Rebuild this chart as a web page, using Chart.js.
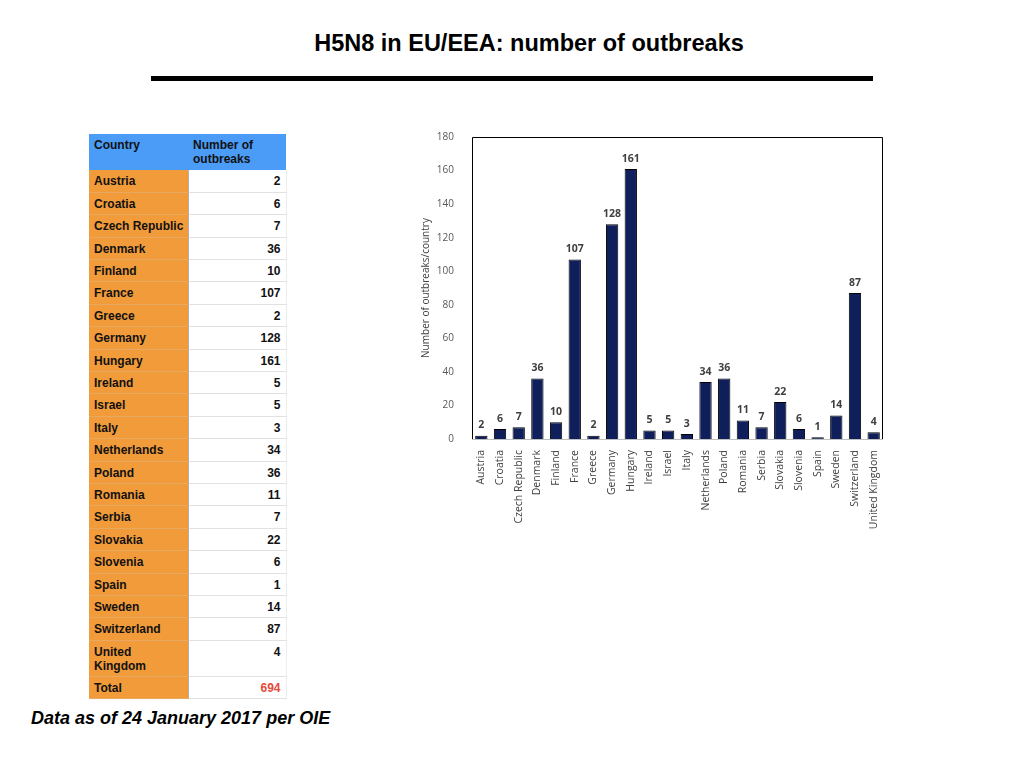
<!DOCTYPE html>
<html>
<head>
<meta charset="utf-8">
<script src="https://cdn.jsdelivr.net/npm/chart.js@4"></script>
<style>
  body { margin: 0; width: 1024px; height: 768px; background: #fff; position: relative; overflow: hidden; font-family: "Liberation Sans", Arial, sans-serif; }
  #title { position: absolute; left: 0; width: 1024px; top: 30px; text-align: center; font-weight: bold; font-size: 23.5px; color: #000; padding-left: 34px; box-sizing: border-box; }
  #rule { position: absolute; left: 151px; top: 76px; width: 722px; height: 5px; background: #000; }
  #tbl { position: absolute; left: 89px; top: 134px; border-collapse: collapse; table-layout: fixed; width: 197px; font-size: 12px; font-weight: bold; color: #111; }
  #tbl td, #tbl th { padding: 0 5px; box-sizing: border-box; white-space: nowrap; }
  #tbl th { background: #4a9cf6; text-align: left; vertical-align: top; height: 36px; padding-top: 4px; line-height: 14px; font-weight: bold; }
  #tbl td { height: 22.4px; border-bottom: 1px solid #e2e2e2; line-height: 14px; vertical-align: top; padding-top: 4px; }
  #tbl td.c { background: #f19b3a; border-bottom: 1px solid #e8a860; border-right: 1px solid #b0b0b0; }
  #tbl td.v { background: #fff; text-align: right; border-right: 1px solid #eee; }
  #tbl tr.two td { height: 36px; }
  #tbl td.red { color: #e34b3a; }
  #wrap { position: absolute; left: 420px; top: 121px; width: 470px; height: 414px; }
  #foot { position: absolute; left: 31px; top: 708px; font-size: 18px; font-weight: bold; font-style: italic; color: #000; }
</style>
</head>
<body>
<div id="title">H5N8 in EU/EEA: number of outbreaks</div>
<div id="rule"></div>
<table id="tbl"><colgroup><col style="width:99px"><col style="width:98px"></colgroup><tbody id="tb"></tbody></table>
<div id="wrap"><canvas id="myChart" width="470" height="414"></canvas></div>
<div id="foot">Data as of 24 January 2017 per OIE</div>
<script>
const countries = ["Austria", "Croatia", "Czech Republic", "Denmark", "Finland", "France", "Greece", "Germany", "Hungary", "Ireland", "Israel", "Italy", "Netherlands", "Poland", "Romania", "Serbia", "Slovakia", "Slovenia", "Spain", "Sweden", "Switzerland", "United Kingdom"];
const outbreaks = [2, 6, 7, 36, 10, 107, 2, 128, 161, 5, 5, 3, 34, 36, 11, 7, 22, 6, 1, 14, 87, 4];
const yTicks = [0, 20, 40, 60, 80, 100, 120, 140, 160, 180];

// table on the left
const tb = document.getElementById('tb');
let html = '<tr><th>Country</th><th>Number of<br>outbreaks</th></tr>';
countries.forEach((c, i) => {
  const two = c === 'United Kingdom';
  html += `<tr${two ? ' class="two"' : ''}><td class="c">${two ? 'United<br>Kingdom' : c}</td><td class="v">${outbreaks[i]}</td></tr>`;
});
const total = outbreaks.reduce((a, b) => a + b, 0);
html += `<tr><td class="c">Total</td><td class="v red">${total}</td></tr>`;
tb.innerHTML = html;

const barLabels = {
  id: 'barLabels',
  afterDatasetsDraw(chart) {
    const { ctx } = chart;
    const meta = chart.getDatasetMeta(0);
    ctx.save();
    ctx.font = 'bold 10.5px "Open Sans"';
    ctx.fillStyle = '#404040';
    ctx.textAlign = 'center';
    ctx.textBaseline = 'bottom';
    meta.data.forEach((bar, i) => {
      ctx.fillText(outbreaks[i], bar.x, bar.y - 5);
    });
    ctx.restore();
  }
};

const plotBorder = {
  id: 'plotBorder',
  afterDraw(chart) {
    const { ctx, chartArea: { left, right, top, bottom } } = chart;
    ctx.save();
    ctx.strokeStyle = '#000';
    ctx.lineWidth = 1;
    ctx.beginPath();
    ctx.moveTo(left + 0.5, bottom);
    ctx.lineTo(left + 0.5, top + 0.5);
    ctx.lineTo(right - 0.5, top + 0.5);
    ctx.lineTo(right - 0.5, bottom);
    ctx.stroke();
    ctx.strokeStyle = '#bfbfbf';
    ctx.beginPath();
    ctx.moveTo(left, bottom + 0.5);
    ctx.lineTo(right, bottom + 0.5);
    ctx.stroke();
    ctx.restore();
  }
};

new Chart(document.getElementById('myChart'), {
  type: 'bar',
  data: {
    labels: countries,
    datasets: [{
      label: 'Number of outbreaks',
      data: outbreaks,
      backgroundColor: '#0f1f5c',
      borderColor: '#000',
      borderWidth: 1,
      barPercentage: 0.66,
      categoryPercentage: 1
    }]
  },
  options: {
    responsive: false,
    animation: false,
    layout: { padding: { top: 9, right: 7, left: 0, bottom: 0 } },
    plugins: {
      legend: { display: false },
      tooltip: { enabled: false }
    },
    scales: {
      x: {
        grid: { display: false },
        border: { display: false },
        ticks: {
          color: '#404040',
          font: { family: '"Open Sans"', size: 10.5 },
          maxRotation: 90,
          minRotation: 90,
          padding: 3
        },
        afterFit(scale) { scale.height = 96; }
      },
      y: {
        min: 0,
        max: 180,
        afterBuildTicks(scale) { scale.ticks = yTicks.map(v => ({ value: v })); },
        grid: { display: false },
        border: { display: false },
        ticks: {
          color: '#595959',
          font: { family: '"Open Sans"', size: 10 },
          padding: 10
        },
        title: {
          display: true,
          text: 'Number of outbreaks/country',
          color: '#404040',
          font: { family: '"Open Sans"', size: 10 },
          padding: 0
        },
        afterFit(scale) { scale.width = 52; }
      }
    }
  },
  plugins: [barLabels, plotBorder]
});
</script>
</body>
</html>
